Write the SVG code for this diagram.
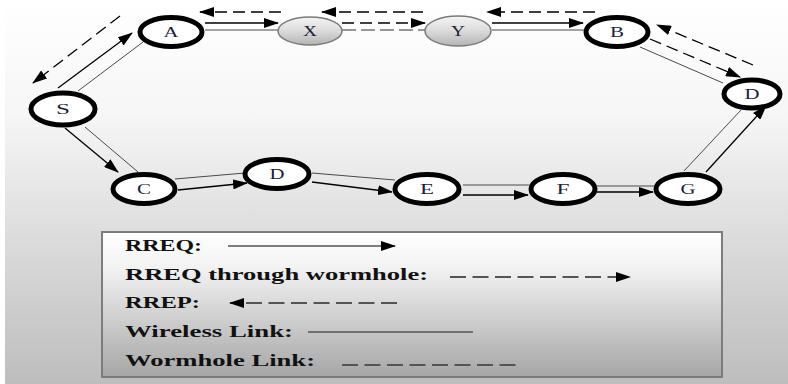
<svg xmlns="http://www.w3.org/2000/svg" width="788" height="384" viewBox="0 0 788 384">
  <defs>
    <linearGradient id="bg" x1="0" y1="0" x2="0" y2="1">
      <stop offset="0" stop-color="#ffffff"/>
      <stop offset="0.3" stop-color="#f6f6f6"/>
      <stop offset="1" stop-color="#bdbdbd"/>
    </linearGradient>
    <linearGradient id="legendFill" x1="0" y1="0" x2="0" y2="1">
      <stop offset="0" stop-color="#ffffff"/>
      <stop offset="0.25" stop-color="#f2f2f2"/>
      <stop offset="1" stop-color="#a6a6a6"/>
    </linearGradient>
    <linearGradient id="relayFill" x1="0" y1="0" x2="0" y2="1">
      <stop offset="0" stop-color="#f4f4f4"/>
      <stop offset="0.45" stop-color="#dedede"/>
      <stop offset="1" stop-color="#b4b4b4"/>
    </linearGradient>
    <marker id="arrow" markerUnits="userSpaceOnUse" markerWidth="15" markerHeight="10" refX="14" refY="5" orient="auto">
      <path d="M0,0 L15,5 L0,10 Z" fill="#000"/>
    </marker>
    <style>
      .node ellipse { fill: #fff; stroke: #000; stroke-width: 5; }
      .relay ellipse { fill: url(#relayFill); stroke: #7a7a7a; stroke-width: 1.5; }
      .node text, .relay text { font-family: "Liberation Serif", "Times New Roman", serif; font-size: 14px; fill: #1c1c3c; text-anchor: middle; }
      .req { stroke: #000; stroke-width: 1.3; fill: none; marker-end: url(#arrow); }
      .link { stroke: #4a4a4a; stroke-width: 1; fill: none; }
      .rrep { stroke: #000; stroke-width: 1.3; fill: none; stroke-dasharray: 12 6; marker-end: url(#arrow); }
      .wreq { stroke: #000; stroke-width: 1.3; fill: none; stroke-dasharray: 12 6; marker-end: url(#arrow); }
      .wlink { stroke: #333; stroke-width: 1.1; fill: none; stroke-dasharray: 14 5; }
      .legend text { font-family: "Liberation Serif", "Times New Roman", serif; font-size: 17px; font-weight: bold; fill: #111; }
      .lg { stroke: #555; stroke-width: 2; fill: none; }
      .lgdash { stroke-dasharray: 16 6.5; }
    </style>
  </defs>

  <!-- backdrop -->
  <rect x="0" y="0" width="788" height="384" fill="#fff"/>
  <rect x="5" y="0" width="783" height="384" fill="url(#bg)"/>

  <!-- connectors -->
  <g id="connectors">
    <!-- S - A -->
    <line class="req" x1="58" y1="88" x2="132" y2="33"/>
    <line class="link" x1="78" y1="91" x2="143" y2="42"/>
    <line class="rrep" x1="120" y1="16" x2="33" y2="83"/>
    <!-- A - X -->
    <line class="req" x1="205" y1="23" x2="278" y2="23"/>
    <line class="link" x1="205" y1="30" x2="279" y2="30"/>
    <!-- X - Y wormhole -->
    <line class="wreq" x1="342" y1="23" x2="425" y2="23"/>
    <line class="wlink" x1="342" y1="30" x2="426" y2="30"/>
    <!-- Y - B -->
    <line class="req" x1="492" y1="23" x2="583" y2="23"/>
    <line class="link" x1="492" y1="30" x2="584" y2="30"/>
    <!-- RREP along the top -->
    <line class="rrep" x1="595" y1="12" x2="487" y2="12"/>
    <line class="rrep" x1="423" y1="12" x2="322" y2="12"/>
    <line class="rrep" x1="281" y1="12" x2="200" y2="12"/>
    <!-- B - D -->
    <line class="link" x1="640" y1="47" x2="723" y2="83"/>
    <line class="wreq" x1="650" y1="39" x2="740" y2="77"/>
    <line class="rrep" x1="753" y1="65" x2="657" y2="25"/>
    <!-- S - C -->
    <line class="req" x1="65" y1="128" x2="118" y2="172"/>
    <line class="link" x1="85" y1="127" x2="138" y2="172"/>
    <!-- C - D -->
    <line class="link" x1="175" y1="179" x2="245" y2="173"/>
    <line class="req" x1="178" y1="190" x2="247" y2="183"/>
    <!-- D - E -->
    <line class="link" x1="312" y1="173" x2="395" y2="180"/>
    <line class="req" x1="312" y1="182" x2="392" y2="192"/>
    <!-- E - F -->
    <line class="link" x1="463" y1="185" x2="529" y2="185"/>
    <line class="req" x1="463" y1="195" x2="528" y2="195"/>
    <!-- F - G -->
    <line class="link" x1="597" y1="186" x2="654" y2="186"/>
    <line class="req" x1="597" y1="192" x2="653" y2="192"/>
    <!-- G - D -->
    <line class="link" x1="684" y1="171" x2="741" y2="110"/>
    <line class="req" x1="706" y1="172" x2="766" y2="106"/>
  </g>

  <!-- nodes -->
  <g id="node-S" class="node"><ellipse cx="63" cy="109" rx="32" ry="16"/><text x="63" y="114" textLength="14" lengthAdjust="spacingAndGlyphs">S</text></g>
  <g id="node-A" class="node"><ellipse cx="171" cy="32" rx="31" ry="14.5"/><text x="171" y="37" textLength="15" lengthAdjust="spacingAndGlyphs">A</text></g>
  <g id="node-X" class="relay"><ellipse cx="310" cy="31" rx="32" ry="14"/><text x="310" y="36" textLength="14" lengthAdjust="spacingAndGlyphs">X</text></g>
  <g id="node-Y" class="relay"><ellipse cx="458" cy="31" rx="33" ry="15"/><text x="458" y="36" textLength="14" lengthAdjust="spacingAndGlyphs">Y</text></g>
  <g id="node-B" class="node"><ellipse cx="617" cy="32" rx="31" ry="14.5"/><text x="617" y="37" textLength="14" lengthAdjust="spacingAndGlyphs">B</text></g>
  <g id="node-D2" class="node"><ellipse cx="752" cy="94" rx="28" ry="14"/><text x="752" y="99" textLength="15" lengthAdjust="spacingAndGlyphs">D</text></g>
  <g id="node-C" class="node"><ellipse cx="144" cy="189" rx="31" ry="14.5"/><text x="144" y="194" textLength="14" lengthAdjust="spacingAndGlyphs">C</text></g>
  <g id="node-D" class="node"><ellipse cx="277" cy="174" rx="32" ry="14.5"/><text x="277" y="179" textLength="15" lengthAdjust="spacingAndGlyphs">D</text></g>
  <g id="node-E" class="node"><ellipse cx="427" cy="189" rx="32" ry="14.5"/><text x="427" y="194" textLength="14" lengthAdjust="spacingAndGlyphs">E</text></g>
  <g id="node-F" class="node"><ellipse cx="563" cy="189" rx="32" ry="14.5"/><text x="563" y="194" textLength="13" lengthAdjust="spacingAndGlyphs">F</text></g>
  <g id="node-G" class="node"><ellipse cx="688" cy="189" rx="32" ry="14.5"/><text x="688" y="194" textLength="15" lengthAdjust="spacingAndGlyphs">G</text></g>

  <!-- legend -->
  <g id="legend" class="legend">
    <rect x="102" y="232" width="620" height="145" fill="url(#legendFill)" stroke="#7c7c7c" stroke-width="2"/>
    <text x="125" y="251" textLength="77" lengthAdjust="spacingAndGlyphs">RREQ:</text>
    <line x1="228" y1="246" x2="395" y2="246" stroke="#555" stroke-width="1.5" marker-end="url(#arrow)"/>
    <text x="125" y="280" textLength="303" lengthAdjust="spacingAndGlyphs">RREQ through wormhole:</text>
    <line class="lg lgdash" x1="450" y1="277" x2="630" y2="277" marker-end="url(#arrow)"/>
    <text x="125" y="308" textLength="75" lengthAdjust="spacingAndGlyphs">RREP:</text>
    <line class="lg lgdash" x1="397" y1="303" x2="230" y2="303" marker-end="url(#arrow)"/>
    <text x="125" y="337" textLength="168" lengthAdjust="spacingAndGlyphs">Wireless Link:</text>
    <line x1="308" y1="332" x2="473" y2="332" stroke="#555" stroke-width="1.5"/>
    <text x="125" y="366" textLength="190" lengthAdjust="spacingAndGlyphs">Wormhole Link:</text>
    <line class="lg lgdash" x1="342" y1="365" x2="520" y2="365"/>
  </g>
</svg>
